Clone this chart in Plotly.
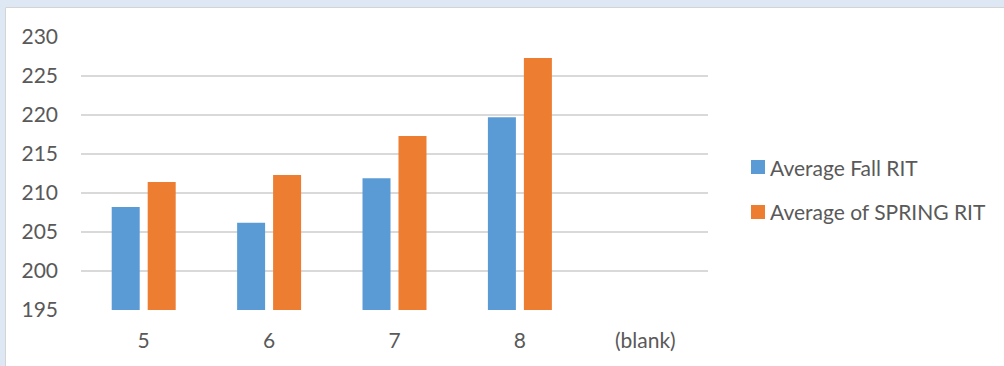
import plotly.graph_objects as go

# Grade levels and average RIT scores per term
grades = ["5", "6", "7", "8", "(blank)"]
fall_rit = [208.2, 206.2, 211.9, 219.7, None]
spring_rit = [211.4, 212.3, 217.3, 227.3, None]

series_names = ["Average Fall RIT", "Average of SPRING RIT"]
series_colors = ["#5B9BD5", "#ED7D31"]

y_ticks = [195, 200, 205, 210, 215, 220, 225, 230]

W, H = 1004, 366
ML, MR, MT, MB = 81, 296, 37, 56
PW, PH = W - ML - MR, H - MT - MB


def px_x(x):
    return (x - ML) / PW


def px_y(y):
    return (H - MB - y) / PH


TEXT = "#595959"
FONT = "Lato"
FS = 21

fig = go.Figure()
for name, vals, col in zip(series_names, [fall_rit, spring_rit], series_colors):
    fig.add_trace(go.Bar(
        x=grades, y=vals, name=name,
        marker=dict(color=col, line=dict(width=0)),
        showlegend=False,
    ))

shapes = [
    # outer frame band and border
    dict(type="rect", xref="paper", yref="paper", x0=px_x(0), x1=px_x(W), y0=px_y(0), y1=px_y(7),
         fillcolor="#DEE8F4", line=dict(width=0), layer="below"),
    dict(type="rect", xref="paper", yref="paper", x0=px_x(0), x1=px_x(5), y0=px_y(0), y1=px_y(H),
         fillcolor="#DEE8F4", line=dict(width=0), layer="below"),
    dict(type="line", xref="paper", yref="paper", x0=px_x(5.5), x1=px_x(W), y0=px_y(7.5), y1=px_y(7.5),
         line=dict(color="#D4D4D4", width=1), layer="below"),
    dict(type="line", xref="paper", yref="paper", x0=px_x(5.5), x1=px_x(5.5), y0=px_y(7.5), y1=px_y(H),
         line=dict(color="#D4D4D4", width=1), layer="below"),
]

annotations = []
legend_rows = [167, 212]
for name, col, ry in zip(series_names, series_colors, legend_rows):
    shapes.append(dict(type="rect", xref="paper", yref="paper",
                       x0=px_x(751), x1=px_x(765), y0=px_y(ry - 7), y1=px_y(ry + 7),
                       fillcolor=col, line=dict(width=0)))
    annotations.append(dict(xref="paper", yref="paper", x=px_x(768), y=px_y(ry),
                            xanchor="left", yanchor="middle", showarrow=False,
                            text=name, font=dict(family=FONT, size=FS, color=TEXT)))

fig.update_layout(
    width=W, height=H,
    margin=dict(l=ML, r=MR, t=MT, b=MB, pad=0),
    paper_bgcolor="white", plot_bgcolor="white",
    barmode="group", bargap=0.426, bargroupgap=0.222,
    font=dict(family=FONT, size=FS, color=TEXT),
    shapes=shapes, annotations=annotations,
    xaxis=dict(
        type="category", categoryorder="array", categoryarray=grades,
        range=[-0.5, 4.5], showgrid=False, zeroline=False, showline=False,
        ticks="", ticklabelstandoff=16,
        tickfont=dict(family=FONT, size=FS, color=TEXT),
    ),
    yaxis=dict(
        range=[195, 230], tickvals=y_ticks, showgrid=True,
        gridcolor="#D9D9D9", gridwidth=2, zeroline=False, showline=False,
        ticks="", ticklabelstandoff=22,
        tickfont=dict(family=FONT, size=FS, color=TEXT),
    ),
)

fig.write_html("out.html")
